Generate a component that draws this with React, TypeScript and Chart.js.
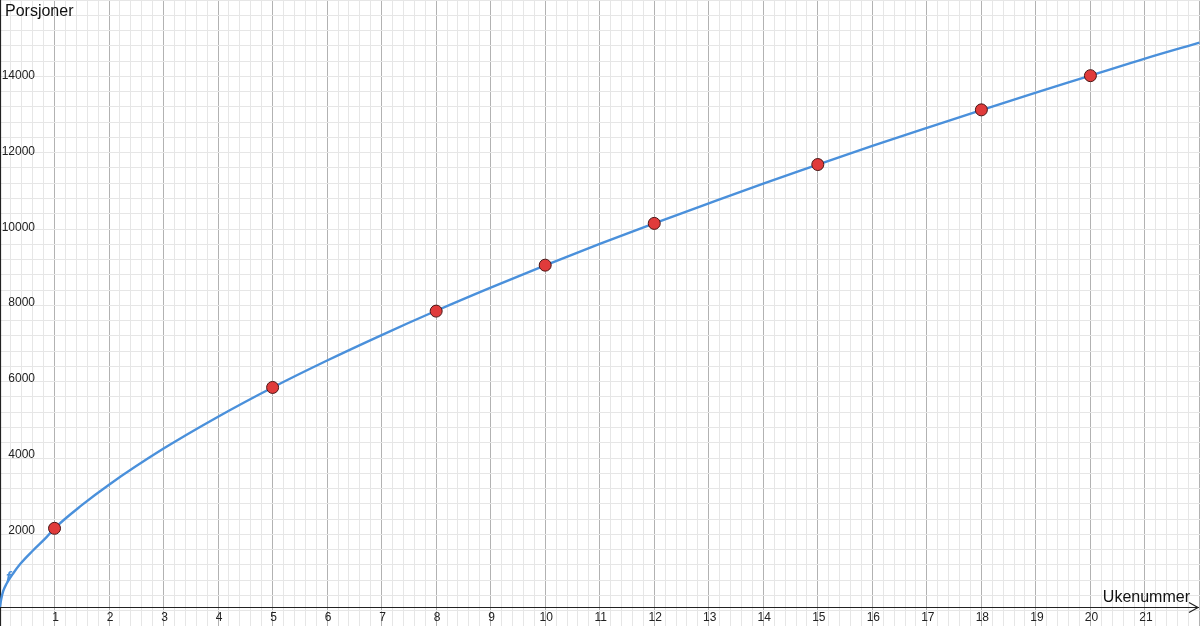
import { useEffect, useRef } from "react";
import { Chart, ChartConfiguration, Plugin, registerables } from "chart.js";

Chart.register(...registerables);

// Observed weeks and servings (red points)
const weeks = [1, 5, 8, 10, 12, 15, 18, 20];
const servings = [2070, 5780, 7790, 9000, 10100, 11650, 13090, 13990];

// Curve f
const curveX = [0, 0.02, 0.06, 0.12, 0.25, 0.37, 0.6, 0.85, 1, 1.5, 2, 3, 4, 5, 6, 7, 8, 9, 10, 11, 12, 13, 14, 15, 16, 17, 18, 19, 20, 21, 22];
const curveY = [0, 190, 420, 610, 900, 1130, 1480, 1830, 2070, 2680, 3220, 4170, 5010, 5780, 6490, 7160, 7800, 8410, 8995, 9560, 10100, 10630, 11150, 11645, 12140, 12615, 13085, 13545, 13990, 14440, 14860];

const xTickLabels = ["1", "2", "3", "4", "5", "6", "7", "8", "9", "10", "11", "12", "13", "14", "15", "16", "17", "18", "19", "20", "21"];
const yTickLabels = ["2000", "4000", "6000", "8000", "10000", "12000", "14000"];

const X_MIN = 0;
const X_MAX = 22.01;
const Y_MIN = -502;
const Y_MAX = 15983;

const LINE_COLOR = "#4a90db";
const MAJOR = "#b2b2b2";
const MINOR = "#e6e6e6";
const FONT = '"Liberation Sans", Arial, sans-serif';

const isMultiple = (v: number, step: number) => Math.abs(v / step - Math.round(v / step)) < 1e-6;

const axesPlugin: Plugin = {
  id: "geoAxes",
  beforeDatasetsDraw(chart) {
    const { ctx, scales, chartArea } = chart;
    const x0 = Math.round(scales.x.getPixelForValue(0)) + 0.5;
    const y0 = Math.round(scales.y.getPixelForValue(0)) + 0.5;
    ctx.save();
    ctx.strokeStyle = "#222";
    ctx.lineWidth = 1.2;
    ctx.beginPath();
    ctx.moveTo(chartArea.left, y0);
    ctx.lineTo(chartArea.right - 1, y0);
    ctx.moveTo(x0, chartArea.top);
    ctx.lineTo(x0, chartArea.bottom);
    ctx.stroke();
    // arrow head
    ctx.beginPath();
    ctx.moveTo(chartArea.right - 11, y0 - 5);
    ctx.lineTo(chartArea.right - 2, y0);
    ctx.lineTo(chartArea.right - 11, y0 + 5);
    ctx.stroke();
    ctx.restore();
  },
  afterDraw(chart) {
    const { ctx, scales } = chart;
    const y0 = scales.y.getPixelForValue(0);
    ctx.save();
    ctx.fillStyle = "#222";
    ctx.font = `12px ${FONT}`;
    ctx.textBaseline = "middle";
    ctx.textAlign = "center";
    xTickLabels.forEach((t) => {
      ctx.fillText(t, scales.x.getPixelForValue(Number(t)) + 1, y0 + 11);
    });
    ctx.textAlign = "right";
    yTickLabels.forEach((t) => {
      ctx.fillText(t, 35, scales.y.getPixelForValue(Number(t)));
    });
    ctx.font = `16px ${FONT}`;
    ctx.textAlign = "left";
    ctx.textBaseline = "alphabetic";
    ctx.fillStyle = "#111";
    ctx.fillText("Porsjoner", 5, 16);
    ctx.textAlign = "right";
    ctx.fillText("Ukenummer", 1190, y0 - 5);
    ctx.font = `italic bold 15px ${FONT}`;
    ctx.fillStyle = LINE_COLOR;
    ctx.textAlign = "left";
    ctx.fillText("f", 6, 582);
    ctx.restore();
  },
};

export default function App() {
  const canvasRef = useRef<HTMLCanvasElement>(null);
  const chartRef = useRef<Chart | null>(null);

  useEffect(() => {
    if (!canvasRef.current) return;

    if (chartRef.current) {
      chartRef.current.destroy();
    }

    const config: ChartConfiguration = {
      type: "scatter",
      data: {
        datasets: [
          {
            label: "Målinger",
            data: weeks.map((w, i) => ({ x: w, y: servings[i] })),
            pointRadius: 6,
            pointBackgroundColor: "#e03b3b",
            pointBorderColor: "#4a1515",
            pointBorderWidth: 1,
            order: 0,
          },
          {
            label: "f",
            data: curveX.map((x, i) => ({ x, y: curveY[i] })),
            showLine: true,
            pointRadius: 0,
            borderColor: LINE_COLOR,
            borderWidth: 2.4,
            cubicInterpolationMode: "monotone",
            order: 1,
          } as any,
        ],
      },
      options: {
        responsive: false,
        animation: false,
        events: [],
        layout: { padding: 0, autoPadding: false },
        plugins: {
          legend: { display: false },
          tooltip: { enabled: false },
        },
        scales: {
          x: {
            type: "linear",
            min: X_MIN,
            max: X_MAX,
            border: { display: false },
            ticks: { display: false, stepSize: 0.2, includeBounds: false },
            grid: {
              drawTicks: false,
              color: (c: any) => {
                const v = c.tick.value;
                if (Math.abs(v) < 1e-6) return "rgba(0,0,0,0)";
                return isMultiple(v, 1) ? MAJOR : MINOR;
              },
            },
          },
          y: {
            type: "linear",
            min: Y_MIN,
            max: Y_MAX,
            border: { display: false },
            ticks: { display: false, stepSize: 400, includeBounds: false },
            grid: {
              drawTicks: false,
              color: (c: any) => {
                const v = c.tick.value;
                if (Math.abs(v) < 1e-6) return "rgba(0,0,0,0)";
                return isMultiple(v, 2000) ? MAJOR : MINOR;
              },
            },
          },
        },
      },
      plugins: [axesPlugin],
    };

    chartRef.current = new Chart(canvasRef.current, config);

    return () => {
      if (chartRef.current) {
        chartRef.current.destroy();
      }
    };
  }, []);

  return (
    <div style={{ position: "absolute", left: 0, top: 0, width: 1200, height: 626, background: "#fff" }}>
      <canvas ref={canvasRef} width={1200} height={626} />
    </div>
  );
}
